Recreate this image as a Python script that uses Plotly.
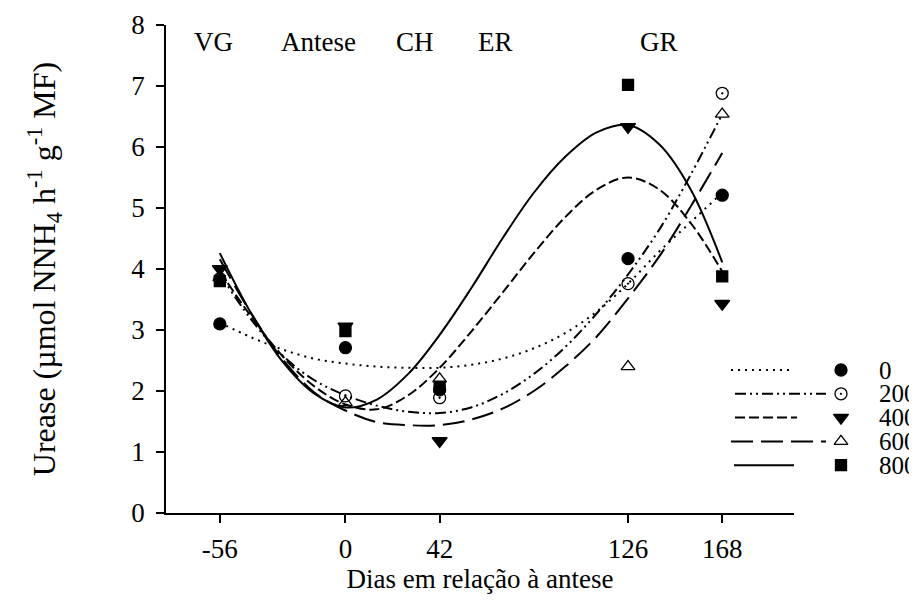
import plotly.graph_objects as go

# ---------------- data ----------------
series_names = ["0", "200", "400", "600", "800"]
days = [-56, 0, 42, 126, 168]
obs_0 = [3.10, 2.71, 2.02, 4.17, 5.21]
obs_200 = [3.84, 1.92, 1.89, 3.76, 6.88]
obs_400 = [4.00, 3.06, 1.18, 6.33, 3.43]
obs_600 = [3.86, 1.81, 2.20, 2.40, 6.54]
obs_800 = [3.80, 2.98, 2.07, 7.02, 3.88]

curve_days = [-56, -42, -28, -14, 0, 14, 28, 42, 56, 70, 84, 98, 112, 126, 140, 154, 168]
fit_0 = [3.12, 2.88, 2.68, 2.53, 2.45, 2.40, 2.38, 2.38, 2.43, 2.53, 2.70, 2.95, 3.30, 3.76, 4.29, 4.77, 5.25]
fit_200 = [3.92, 3.17, 2.58, 2.18, 1.93, 1.76, 1.66, 1.64, 1.73, 1.95, 2.28, 2.72, 3.27, 3.91, 4.65, 5.55, 6.54]
fit_400 = [3.96, 3.22, 2.57, 2.08, 1.78, 1.70, 1.93, 2.38, 2.97, 3.61, 4.26, 4.85, 5.30, 5.50, 5.30, 4.75, 3.96]
fit_600 = [4.16, 3.27, 2.52, 1.98, 1.68, 1.49, 1.44, 1.44, 1.53, 1.71, 2.00, 2.40, 2.89, 3.52, 4.21, 5.03, 5.90]
fit_800 = [4.26, 3.27, 2.48, 1.96, 1.73, 1.86, 2.28, 2.92, 3.68, 4.50, 5.25, 5.84, 6.24, 6.36, 6.04, 5.30, 4.11]

x_ticks = [-56, 0, 42, 126, 168]
y_ticks = [0, 1, 2, 3, 4, 5, 6, 7, 8]
stage_labels = ["VG", "Antese", "CH", "ER", "GR"]
stage_days = [-59, -12, 31, 67, 140]
stage_level = 7.72

# ---------------- styles ----------------
FONT = "Liberation Serif"
FS = 27
observations = [obs_0, obs_200, obs_400, obs_600, obs_800]
fits = [fit_0, fit_200, fit_400, fit_600, fit_800]
dashes = ["2px,5px", "11px,4px,2px,4px,2px,4px", "10px,4px", "22px,8px", "solid"]
symbols = ["circle", "circle-open-dot", "triangle-down", "triangle-up-open", "square"]
msizes = [12, 12, 13, 12, 11]

# plot area in figure pixels
W, H = 917, 601
ML, MR, MT, MB = 158, 0, 17, 96
plot_right_px = 786
pw = W - ML - MR
x_dom_end = (plot_right_px - ML) / pw
leg_left_px = 700

fig = go.Figure()

for name, fy, dsh in zip(series_names, fits, dashes):
    fig.add_trace(go.Scatter(
        x=curve_days, y=fy, mode="lines", line=dict(color="black", width=2, dash=dsh, shape="spline"),
        showlegend=False, hoverinfo="skip"))

for name, oy, sym, ms in zip(series_names, observations, symbols, msizes):
    fig.add_trace(go.Scatter(
        x=days, y=oy, mode="markers", name=name,
        marker=dict(symbol=sym, size=ms, color="black", line=dict(color="black", width=1.3)),
        showlegend=False, cliponaxis=False))

# ---------------- custom legend (pixel-space overlay axis) ----------------
leg_row0 = 362
leg_step = 23.8
leg_line_start = [723, 727, 727, 723, 726]
leg_line_end = [781, 818, 789, 818, 786]
leg_marker_x = 833
leg_text_x = 871
for i, (name, dsh, sym, ms) in enumerate(zip(series_names, dashes, symbols, msizes)):
    yy = leg_row0 + i * leg_step
    fig.add_trace(go.Scatter(
        x=[leg_line_start[i], leg_line_end[i]], y=[yy, yy], mode="lines",
        line=dict(color="black", width=2, dash=dsh), xaxis="x2", yaxis="y2",
        showlegend=False, hoverinfo="skip"))
    fig.add_trace(go.Scatter(
        x=[leg_marker_x], y=[yy], mode="markers",
        marker=dict(symbol=sym, size=ms, color="black", line=dict(color="black", width=1.3)),
        xaxis="x2", yaxis="y2", showlegend=False, hoverinfo="skip", cliponaxis=False))
    fig.add_annotation(x=leg_text_x, y=yy, xref="x2", yref="y2", text=name, showarrow=False,
                       xanchor="left", yanchor="middle", borderpad=0, borderwidth=0,
                       font=dict(family=FONT, size=25, color="black"))

for lab, d in zip(stage_labels, stage_days):
    fig.add_annotation(x=d, y=stage_level, xref="x", yref="y", text=lab, showarrow=False,
                       xanchor="center", yanchor="middle", font=dict(family=FONT, size=FS, color="black"))

fig.update_layout(
    width=W, height=H,
    margin=dict(l=ML, r=MR, t=MT, b=MB),
    paper_bgcolor="white", plot_bgcolor="rgba(0,0,0,0)",
    font=dict(family=FONT, size=FS, color="black"),
    showlegend=False,
    xaxis=dict(domain=[0, x_dom_end], range=[-80, 200], tickvals=x_ticks, ticktext=[str(v) for v in x_ticks],
               ticks="outside", ticklen=8, tickwidth=1.5, tickcolor="black",
               showline=True, linewidth=1.5, linecolor="black", showgrid=False, zeroline=False,
               tickfont=dict(family=FONT, size=FS), ticklabelstandoff=3,
               title=dict(text="Dias em relação à antese", font=dict(family=FONT, size=27), standoff=3)),
    yaxis=dict(range=[0, 8], tickvals=y_ticks, ticks="outside", ticklen=8, tickwidth=1.5, tickcolor="black",
               showline=True, linewidth=1.5, linecolor="black", showgrid=False, zeroline=False,
               tickfont=dict(family=FONT, size=FS), ticklabelstandoff=6,
               title=dict(text="Urease (µmol NNH<sub>4</sub> h<sup>-1</sup> g<sup>-1</sup> MF)",
                          font=dict(family=FONT, size=32), standoff=66)),
    xaxis2=dict(domain=[(leg_left_px - ML) / pw, 1], range=[leg_left_px, W], visible=False, anchor="y2"),
    yaxis2=dict(domain=[0, 1], range=[H - MB, MT], visible=False, anchor="x2"),
)

fig.write_html("out.html")
